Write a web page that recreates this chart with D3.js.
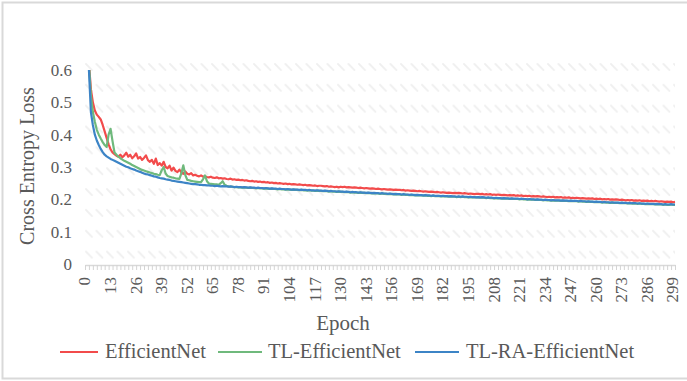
<!DOCTYPE html>
<html>
<head>
<meta charset="utf-8">
<script src="https://cdn.jsdelivr.net/npm/d3@7"></script>
<style>
  html, body { margin: 0; padding: 0; background: #fff; }
  svg { display: block; }
  text { font-family: "Liberation Serif", "Times New Roman", serif; fill: #595959; }
</style>
</head>
<body>
<svg id="chart" width="687" height="381"></svg>
<script>
// Training loss per epoch (epochs 0..300)
const epochs = d3.range(0, 301);

const effNet = [
  1.000, 0.780, 0.620, 0.540, 0.500, 0.475, 0.462, 0.455, 0.447, 0.430,
  0.410, 0.390, 0.370, 0.355, 0.345, 0.340, 0.335, 0.332, 0.338, 0.330,
  0.336, 0.344, 0.332, 0.338, 0.327, 0.333, 0.342, 0.326, 0.331, 0.322,
  0.328, 0.336, 0.321, 0.316, 0.322, 0.310, 0.326, 0.306, 0.312, 0.304,
  0.316, 0.300, 0.296, 0.304, 0.289, 0.298, 0.288, 0.284, 0.292, 0.283,
  0.279, 0.286, 0.279, 0.277, 0.281, 0.274, 0.276, 0.273, 0.271, 0.274,
  0.270, 0.271, 0.269, 0.268, 0.270, 0.267, 0.266, 0.268, 0.265, 0.266,
  0.264, 0.265, 0.263, 0.262, 0.264, 0.261, 0.262, 0.260, 0.261, 0.259,
  0.260, 0.258, 0.259, 0.257, 0.256, 0.257, 0.255, 0.256, 0.254, 0.255,
  0.253, 0.254, 0.252, 0.253, 0.251, 0.252, 0.250, 0.251, 0.249, 0.250,
  0.249, 0.248, 0.249, 0.247, 0.248, 0.246, 0.247, 0.246, 0.245, 0.246,
  0.245, 0.244, 0.245, 0.243, 0.244, 0.243, 0.242, 0.243, 0.241, 0.242,
  0.242, 0.241, 0.240, 0.241, 0.239, 0.240, 0.239, 0.238, 0.239, 0.237,
  0.239, 0.238, 0.239, 0.237, 0.238, 0.237, 0.236, 0.237, 0.236, 0.235,
  0.236, 0.235, 0.234, 0.235, 0.234, 0.233, 0.234, 0.233, 0.232, 0.233,
  0.232, 0.231, 0.232, 0.231, 0.230, 0.231, 0.230, 0.229, 0.230, 0.229,
  0.229, 0.228, 0.229, 0.227, 0.228, 0.227, 0.226, 0.227, 0.226, 0.225,
  0.226, 0.225, 0.224, 0.225, 0.224, 0.223, 0.224, 0.223, 0.222, 0.223,
  0.222, 0.221, 0.222, 0.221, 0.220, 0.221, 0.220, 0.219, 0.220, 0.219,
  0.220, 0.219, 0.218, 0.219, 0.218, 0.217, 0.218, 0.217, 0.216, 0.217,
  0.217, 0.216, 0.217, 0.215, 0.216, 0.215, 0.216, 0.214, 0.215, 0.214,
  0.215, 0.214, 0.213, 0.214, 0.213, 0.212, 0.213, 0.212, 0.213, 0.211,
  0.212, 0.211, 0.212, 0.210, 0.211, 0.210, 0.211, 0.209, 0.210, 0.209,
  0.210, 0.209, 0.208, 0.209, 0.208, 0.207, 0.208, 0.207, 0.208, 0.206,
  0.207, 0.206, 0.207, 0.205, 0.206, 0.205, 0.206, 0.204, 0.205, 0.204,
  0.205, 0.204, 0.203, 0.204, 0.203, 0.202, 0.203, 0.202, 0.203, 0.201,
  0.202, 0.201, 0.202, 0.200, 0.201, 0.200, 0.201, 0.199, 0.200, 0.199,
  0.200, 0.199, 0.198, 0.199, 0.198, 0.197, 0.198, 0.197, 0.198, 0.196,
  0.197, 0.196, 0.197, 0.195, 0.196, 0.195, 0.196, 0.194, 0.195, 0.194,
  0.195, 0.194, 0.193, 0.194, 0.193, 0.192, 0.193, 0.192, 0.193, 0.191,
  0.192
];

const tlEffNet = [
  1.000, 0.780, 0.620, 0.520, 0.470, 0.440, 0.415, 0.400, 0.388, 0.377,
  0.368, 0.362, 0.400, 0.418, 0.380, 0.345, 0.338, 0.332, 0.327, 0.323,
  0.319, 0.316, 0.313, 0.310, 0.306, 0.303, 0.300, 0.297, 0.294, 0.291,
  0.289, 0.287, 0.285, 0.283, 0.281, 0.279, 0.278, 0.276, 0.275, 0.290,
  0.300, 0.280, 0.272, 0.270, 0.268, 0.267, 0.265, 0.264, 0.263, 0.280,
  0.305, 0.275, 0.260, 0.259, 0.257, 0.256, 0.255, 0.254, 0.253, 0.253,
  0.262, 0.274, 0.256, 0.249, 0.248, 0.247, 0.246, 0.246, 0.245, 0.250,
  0.256, 0.245, 0.242, 0.240, 0.239, 0.239, 0.238, 0.238, 0.237, 0.237,
  0.236, 0.237, 0.236, 0.235, 0.236, 0.235, 0.235, 0.234, 0.235, 0.234,
  0.234, 0.233, 0.234, 0.233, 0.232, 0.233, 0.232, 0.232, 0.231, 0.232,
  0.231, 0.231, 0.230, 0.231, 0.230, 0.229, 0.230, 0.229, 0.229, 0.228,
  0.229, 0.228, 0.228, 0.227, 0.228, 0.227, 0.227, 0.226, 0.227, 0.226,
  0.226, 0.225, 0.226, 0.225, 0.224, 0.225, 0.224, 0.224, 0.223, 0.224,
  0.223, 0.223, 0.222, 0.223, 0.222, 0.221, 0.222, 0.221, 0.221, 0.220,
  0.221, 0.220, 0.220, 0.219, 0.220, 0.219, 0.218, 0.219, 0.218, 0.218,
  0.217, 0.218, 0.217, 0.217, 0.216, 0.217, 0.216, 0.215, 0.216, 0.215,
  0.215, 0.214, 0.215, 0.214, 0.214, 0.213, 0.214, 0.213, 0.212, 0.213,
  0.212, 0.212, 0.211, 0.212, 0.211, 0.211, 0.210, 0.211, 0.210, 0.210,
  0.210, 0.209, 0.210, 0.209, 0.209, 0.208, 0.209, 0.208, 0.208, 0.207,
  0.208, 0.207, 0.208, 0.207, 0.207, 0.206, 0.207, 0.206, 0.206, 0.206,
  0.206, 0.205, 0.206, 0.205, 0.204, 0.205, 0.204, 0.204, 0.203, 0.204,
  0.203, 0.203, 0.202, 0.203, 0.202, 0.202, 0.201, 0.202, 0.201, 0.201,
  0.201, 0.200, 0.201, 0.200, 0.200, 0.199, 0.200, 0.199, 0.199, 0.198,
  0.199, 0.198, 0.198, 0.197, 0.198, 0.197, 0.197, 0.196, 0.197, 0.196,
  0.196, 0.196, 0.195, 0.196, 0.195, 0.195, 0.194, 0.195, 0.194, 0.194,
  0.194, 0.193, 0.194, 0.193, 0.193, 0.192, 0.193, 0.192, 0.192, 0.191,
  0.192, 0.191, 0.191, 0.190, 0.191, 0.190, 0.190, 0.189, 0.190, 0.189,
  0.189, 0.189, 0.188, 0.189, 0.188, 0.188, 0.187, 0.188, 0.187, 0.187,
  0.187, 0.186, 0.187, 0.186, 0.186, 0.185, 0.186, 0.185, 0.185, 0.185,
  0.184, 0.185, 0.184, 0.184, 0.183, 0.184, 0.183, 0.183, 0.184, 0.183,
  0.183
];

const tlRaEffNet = [
  1.000, 0.800, 0.600, 0.470, 0.430, 0.400, 0.382, 0.368, 0.356, 0.346,
  0.338, 0.333, 0.329, 0.325, 0.322, 0.319, 0.316, 0.313, 0.310, 0.307,
  0.304, 0.301, 0.299, 0.296, 0.294, 0.292, 0.289, 0.287, 0.285, 0.282,
  0.280, 0.278, 0.277, 0.275, 0.273, 0.271, 0.270, 0.268, 0.266, 0.265,
  0.264, 0.262, 0.261, 0.260, 0.258, 0.257, 0.256, 0.255, 0.254, 0.253,
  0.252, 0.251, 0.250, 0.249, 0.248, 0.247, 0.247, 0.246, 0.245, 0.245,
  0.244, 0.244, 0.243, 0.243, 0.242, 0.242, 0.241, 0.242, 0.241, 0.240,
  0.241, 0.240, 0.240, 0.239, 0.240, 0.239, 0.238, 0.239, 0.238, 0.238,
  0.237, 0.238, 0.237, 0.236, 0.237, 0.236, 0.236, 0.235, 0.236, 0.235,
  0.235, 0.234, 0.235, 0.234, 0.233, 0.234, 0.233, 0.233, 0.232, 0.233,
  0.232, 0.232, 0.231, 0.232, 0.231, 0.230, 0.231, 0.230, 0.230, 0.229,
  0.230, 0.229, 0.229, 0.228, 0.229, 0.228, 0.228, 0.227, 0.228, 0.227,
  0.227, 0.226, 0.227, 0.226, 0.225, 0.226, 0.225, 0.225, 0.224, 0.225,
  0.224, 0.224, 0.223, 0.224, 0.223, 0.222, 0.223, 0.222, 0.222, 0.221,
  0.222, 0.221, 0.221, 0.220, 0.221, 0.220, 0.219, 0.220, 0.219, 0.219,
  0.218, 0.219, 0.218, 0.218, 0.217, 0.218, 0.217, 0.216, 0.217, 0.216,
  0.216, 0.215, 0.216, 0.215, 0.215, 0.214, 0.215, 0.214, 0.213, 0.214,
  0.213, 0.213, 0.212, 0.213, 0.212, 0.212, 0.211, 0.212, 0.211, 0.211,
  0.211, 0.210, 0.211, 0.210, 0.210, 0.209, 0.210, 0.209, 0.209, 0.208,
  0.209, 0.208, 0.209, 0.208, 0.208, 0.207, 0.208, 0.207, 0.207, 0.206,
  0.207, 0.206, 0.207, 0.206, 0.205, 0.206, 0.205, 0.205, 0.204, 0.205,
  0.204, 0.204, 0.203, 0.204, 0.203, 0.203, 0.202, 0.203, 0.202, 0.202,
  0.202, 0.201, 0.202, 0.201, 0.201, 0.200, 0.201, 0.200, 0.200, 0.199,
  0.200, 0.199, 0.199, 0.198, 0.199, 0.198, 0.198, 0.197, 0.198, 0.197,
  0.197, 0.197, 0.196, 0.197, 0.196, 0.196, 0.195, 0.196, 0.195, 0.195,
  0.195, 0.194, 0.195, 0.194, 0.194, 0.193, 0.194, 0.193, 0.193, 0.192,
  0.193, 0.192, 0.192, 0.191, 0.192, 0.191, 0.191, 0.190, 0.191, 0.190,
  0.190, 0.190, 0.189, 0.190, 0.189, 0.189, 0.188, 0.189, 0.188, 0.188,
  0.188, 0.187, 0.188, 0.187, 0.187, 0.186, 0.187, 0.186, 0.186, 0.186,
  0.185, 0.186, 0.185, 0.185, 0.184, 0.185, 0.184, 0.184, 0.185, 0.184,
  0.184
];

const xTickLabels = [0, 13, 26, 39, 52, 65, 78, 91, 104, 117, 130, 143, 156,
  169, 182, 195, 208, 221, 234, 247, 260, 273, 286, 299];
const yTicks = [0, 0.1, 0.2, 0.3, 0.4, 0.5, 0.6];

const seriesNames = ["EfficientNet", "TL-EfficientNet", "TL-RA-EfficientNet"];
const seriesColors = ["#f24b4b", "#6fb97c", "#3c84c6"];
const seriesValues = [effNet, tlEffNet, tlRaEffNet];

const svg = d3.select("#chart");
const W = 687, H = 381;
const plot = { left: 85, right: 675, top: 70, bottom: 264 };

const x = d3.scalePoint().domain(epochs).range([plot.left, plot.right]);
const y = d3.scaleLinear().domain([0, 0.6]).range([plot.bottom, plot.top]);

// outer chart frame
svg.append("rect")
  .attr("x", 2.5).attr("y", 2.5)
  .attr("width", W + 10).attr("height", H - 5)
  .attr("fill", "#fff").attr("stroke", "#d9d9d9").attr("stroke-width", 2);

// light hatched bands across the plot area
const defs = svg.append("defs");
const bandStep = 20.85;
const pat = defs.append("pattern")
  .attr("id", "hatch").attr("patternUnits", "userSpaceOnUse")
  .attr("x", plot.left).attr("y", 63)
  .attr("width", 10.5).attr("height", bandStep);
pat.append("path")
  .attr("d", "M1,1 L7,7")
  .attr("stroke", "#efefef").attr("stroke-width", 1.8)
  .attr("stroke-linecap", "round");
svg.append("rect")
  .attr("x", plot.left).attr("y", 63)
  .attr("width", plot.right - plot.left).attr("height", 196)
  .attr("fill", "url(#hatch)");

defs.append("clipPath").attr("id", "plotClip")
  .append("rect")
  .attr("x", plot.left - 2).attr("y", plot.top)
  .attr("width", plot.right - plot.left + 6).attr("height", plot.bottom - plot.top + 2);

// x axis: line with minor ticks, labels every 13 epochs
const xAxisG = svg.append("g").attr("transform", `translate(0,${plot.bottom + 1})`);
xAxisG.call(d3.axisBottom(x)
  .tickValues(epochs.filter(d => d % 2 === 0))
  .tickSize(5).tickSizeOuter(0).tickFormat(""));
xAxisG.select(".domain").attr("stroke", "#d9d9d9").attr("stroke-width", 1.5);
xAxisG.selectAll(".tick line").attr("stroke", "#d4d4d4");

const xLab = svg.append("g").attr("transform", `translate(0,${plot.bottom + 1})`)
  .call(d3.axisBottom(x).tickValues(xTickLabels).tickSize(0));
xLab.select(".domain").remove();
xLab.selectAll(".tick text")
  .attr("transform", "rotate(-90)")
  .attr("x", -12).attr("y", -1).attr("dy", "0.35em")
  .attr("text-anchor", "end")
  .style("font-family", "'Liberation Serif', serif")
  .style("font-size", "17px")
  .attr("fill", "#595959");

// y axis labels (no axis line)
const yAxisG = svg.append("g").attr("transform", `translate(${plot.left},0)`)
  .call(d3.axisLeft(y).tickValues(yTicks).tickSize(0)
    .tickFormat(d => d === 0 ? "0" : d3.format(".1f")(d)));
yAxisG.select(".domain").remove();
yAxisG.selectAll(".tick text")
  .attr("x", -13).attr("dy", "0.33em")
  .style("font-family", "'Liberation Serif', serif")
  .style("font-size", "17px")
  .attr("fill", "#595959");

// series lines
const line = d3.line()
  .x((d, i) => x(epochs[i]))
  .y(d => y(d));
const linesG = svg.append("g").attr("clip-path", "url(#plotClip)");
seriesValues.forEach((vals, k) => {
  linesG.append("path")
    .datum(vals)
    .attr("d", line)
    .attr("fill", "none")
    .attr("stroke", seriesColors[k])
    .attr("stroke-width", 2.2)
    .attr("stroke-linejoin", "round");
});

// axis titles
svg.append("text")
  .attr("transform", "translate(34,166) rotate(-90)")
  .attr("text-anchor", "middle")
  .style("font-size", "20px")
  .text("Cross Entropy Loss");
svg.append("text")
  .attr("x", 343).attr("y", 330)
  .attr("text-anchor", "middle")
  .style("font-size", "21px")
  .text("Epoch");

// legend
const legendItems = [
  { x1: 60, x2: 98, tx: 105 },
  { x1: 218, x2: 262, tx: 268 },
  { x1: 415, x2: 459, tx: 466 }
];
const legend = svg.append("g");
legendItems.forEach((it, k) => {
  legend.append("line")
    .attr("x1", it.x1).attr("x2", it.x2)
    .attr("y1", 352).attr("y2", 352)
    .attr("stroke", seriesColors[k]).attr("stroke-width", 2.2);
  legend.append("text")
    .attr("x", it.tx).attr("y", 358)
    .style("font-size", "20.5px")
    .text(seriesNames[k]);
});
</script>
</body>
</html>
